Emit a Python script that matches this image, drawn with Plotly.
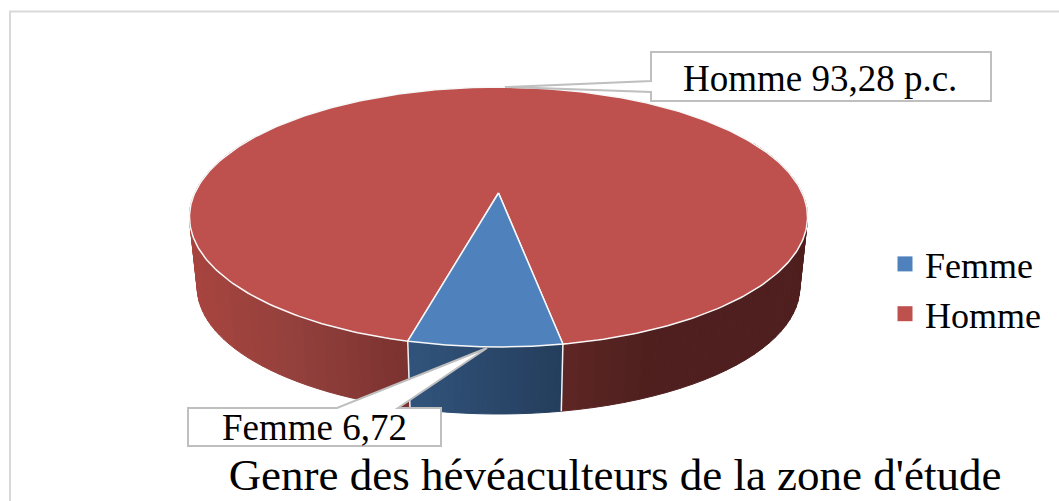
import numpy as np
import plotly.graph_objects as go

# ---- data ----
categories = ["Femme", "Homme"]
values = [6.72, 93.28]
slice_labels = ["Femme 6,72", "Homme 93,28 p.c."]
chart_title = "Genre des hévéaculteurs de la zone d'étude"
top_colors = ["#4F81BD", "#BE504E"]

# ---- projection of the tilted pie (perspective) ----
W, H = 1059, 501
CX, CY = 498.5, 193
A, B, P = 303.7, 125.5, 0.1847
SHRINK, DROP = 0.975, 70.9
START_DEG = -14.2
FONT = "Liberation Serif"


def rim(theta_deg):
    t = np.radians(theta_deg)
    w = 1 - P * np.cos(t)
    return CX + A * np.sin(t) / w, CY + B * np.cos(t) / w


def bottom(theta_deg):
    x, y = rim(theta_deg)
    return CX + SHRINK * (x - CX), CY + SHRINK * (y - CY) + DROP


def hex2rgb(h):
    return np.array([int(h[i:i + 2], 16) for i in (1, 3, 5)], float)


def ramp(x, xs, cols):
    rgb = [np.interp(x, xs, [hex2rgb(c)[k] for c in cols]) for k in range(3)]
    return "rgb(%d,%d,%d)" % tuple(int(round(v)) for v in rgb)


RED_X = [195, 300, 408, 563, 650, 810]
RED_C = ["#A8443F", "#93403C", "#7C3230", "#5E2623", "#4E1F1E", "#4E1F1E"]
BLUE_X = [408, 561]
BLUE_C = ["#32547C", "#243D5C"]

fracs = np.array(values) / sum(values) * 360
a0 = START_DEG
a1 = a0 + fracs[0]
a2 = a1 + fracs[1]

fig = go.Figure()


def add_strips(t_from, t_to, n, xs, cols):
    edges = np.linspace(t_from, t_to, n + 1)
    for t1, t2 in zip(edges[:-1], edges[1:]):
        ts = np.linspace(t1, t2, 4)
        xt, yt = rim(ts)
        xb, yb = bottom(ts)
        c = ramp(float(np.mean(xb)), xs, cols)
        fig.add_trace(go.Scatter(
            x=np.r_[xt, xb[::-1], xt[0]], y=np.r_[yt, yb[::-1], yt[0]],
            mode="lines", fill="toself", fillcolor=c,
            line=dict(color=c, width=1), showlegend=False, hoverinfo="skip"))


# side wall
add_strips(a0 - 105, a0, 50, RED_X, RED_C)
add_strips(a1, a1 + 105, 40, RED_X, RED_C)
add_strips(a0, a1, 20, BLUE_X, BLUE_C)

# white edges on the wall
for t in (a0, a1):
    xt, yt = rim(t)
    xb, yb = bottom(t)
    fig.add_trace(go.Scatter(x=[xt, xb], y=[yt, yb], mode="lines",
                             line=dict(color="#F2F2F2", width=1.5),
                             showlegend=False, hoverinfo="skip"))

# top faces
for name, col, t1, t2 in ((categories[1], top_colors[1], a1, a2),
                          (categories[0], top_colors[0], a0, a1)):
    ts = np.linspace(t1, t2, 360)
    xr, yr = rim(ts)
    fig.add_trace(go.Scatter(
        x=np.r_[CX, xr, CX], y=np.r_[CY, yr, CY], mode="lines", fill="toself",
        fillcolor=col, line=dict(color="#F7F7F7", width=1.5),
        showlegend=False, name=name, hoverinfo="skip"))

# legend entries
for name, col in zip(categories, top_colors):
    fig.add_trace(go.Scatter(
        x=[None], y=[None], mode="markers", name=name, legendgroup=name,
        marker=dict(symbol="square", size=15, color=col)))

GREY = "#BFBFBF"
callouts = [
    "M 651 52 L 991 52 L 991 101 L 651 101 L 651 92 L 505 87 L 651 81 Z",
    "M 188 408 L 337 408 L 487 348 L 398 408 L 441 408 L 441 446 L 188 446 Z",
]
shapes = [dict(type="path", path=p, xref="x", yref="y", fillcolor="white",
               line=dict(color=GREY, width=2), layer="above") for p in callouts]
shapes.append(dict(type="path", path="M 10 501 L 10 11.5 L 1059 11.5",
                   xref="x", yref="y", line=dict(color="#D9D9D9", width=2),
                   layer="below"))

annotations = [
    dict(x=820, y=78, text=slice_labels[1], showarrow=False, xanchor="center",
         yanchor="middle", font=dict(family=FONT, size=37, color="black")),
    dict(x=314, y=427, text=slice_labels[0], showarrow=False, xanchor="center",
         yanchor="middle", font=dict(family=FONT, size=37, color="black")),
]

fig.update_layout(
    width=W, height=H, autosize=False,
    margin=dict(l=0, r=0, t=0, b=0),
    paper_bgcolor="white", plot_bgcolor="white",
    xaxis=dict(range=[0, W], visible=False, fixedrange=True),
    yaxis=dict(range=[H, 0], visible=False, fixedrange=True),
    title=dict(text=chart_title, x=615 / W, xanchor="center", y=(H - 474) / H,
               yanchor="middle", font=dict(family=FONT, size=45, color="black"),
               automargin=False),
    legend=dict(x=885 / W, xanchor="left", y=1 - 234 / H, yanchor="top",
                font=dict(family=FONT, size=36, color="black"),
                tracegroupgap=0, bgcolor="rgba(0,0,0,0)", itemclick=False,
                itemdoubleclick=False),
    shapes=shapes, annotations=annotations, showlegend=True,
)

fig.write_html("out.html", post_script="document.body.style.margin='0';",
               config={"displayModeBar": False})
